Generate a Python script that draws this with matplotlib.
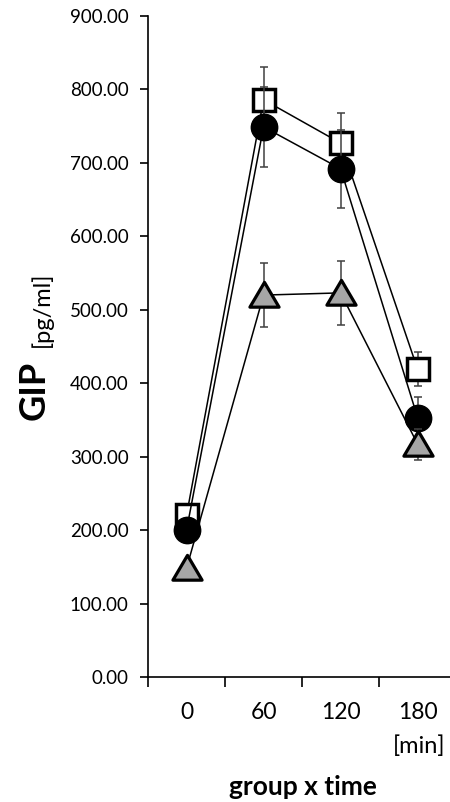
import numpy as np
import matplotlib
matplotlib.use("Agg")
import matplotlib.pyplot as plt
from matplotlib.path import Path

plt.rcParams['font.family'] = ['Lato', 'DejaVu Sans']

# data
times = ['0', '60', '120', '180']
square_vals = [220, 786, 727, 419]
square_err = [12, 45, 41, 23]
circle_vals = [200, 749, 692, 353]
circle_err = [12, 55, 53, 28]
triangle_vals = [148, 520, 523, 317]
triangle_err = [10, 44, 44, 21]

x = np.arange(len(times))

fig = plt.figure(figsize=(4.5, 8.02), dpi=100)
ax = fig.add_axes([148 / 450, 1 - 677 / 802, 1 - 148 / 450, (677 - 16) / 802])

tri = Path([(-1, -0.8), (1, -0.8), (0, 0.9), (-1, -0.8)],
           [Path.MOVETO, Path.LINETO, Path.LINETO, Path.CLOSEPOLY])

series = [
    (square_vals, square_err, dict(marker='s', ms=16, mfc='white', mec='black', mew=2.5)),
    (circle_vals, circle_err, dict(marker='o', ms=19, mfc='black', mec='black', mew=1)),
    (triangle_vals, triangle_err, dict(marker=tri, ms=21, mfc='#a6a6a6', mec='black', mew=2.3)),
]

z = 3
for vals, err, style in series:
    ax.errorbar(x, vals, yerr=err, fmt='none', ecolor='#404040', elinewidth=1.1,
                capsize=3, capthick=1.1, zorder=z)
    ax.plot(x, vals, color='black', lw=1.1, zorder=z + 0.5,
            solid_joinstyle='miter', **style)
    z += 1

ax.set_ylim(0, 900)
ax.set_yticks(np.arange(0, 901, 100))
ax.yaxis.set_major_formatter(plt.FuncFormatter(lambda v, p: f'{v:.2f}'))
ax.set_xlim(-0.5, 3.42)
ax.set_xticks([-0.5, 0.5, 1.5, 2.5])
ax.set_xticklabels([])
ax.set_xticks(x, minor=True)
ax.set_xticklabels(times, minor=True)

ax.spines['top'].set_visible(False)
ax.spines['right'].set_visible(False)
for s in ['left', 'bottom']:
    ax.spines[s].set_linewidth(1.2)

ax.tick_params(axis='y', direction='out', length=6, width=1.2, labelsize=13.5, pad=8)
ax.tick_params(axis='x', which='major', direction='out', length=7, width=1.2)
ax.tick_params(axis='x', which='minor', length=0, labelsize=16.5, pad=18)

fig.text(419 / 450, 1 - 746 / 802, '[min]', ha='center', va='center', fontsize=17)
fig.text(303 / 450, 1 - 787 / 802, 'group x time', ha='center', va='center',
         fontsize=19, fontweight='bold')
fig.text(34 / 450, 1 - 390 / 802, 'GIP', ha='center', va='center', rotation=90,
         fontsize=26, fontweight='bold')
fig.text(42 / 450, 1 - 309 / 802, '[pg/ml]', ha='center', va='center', rotation=90,
         fontsize=17)

fig.savefig('out.png', dpi=100)
